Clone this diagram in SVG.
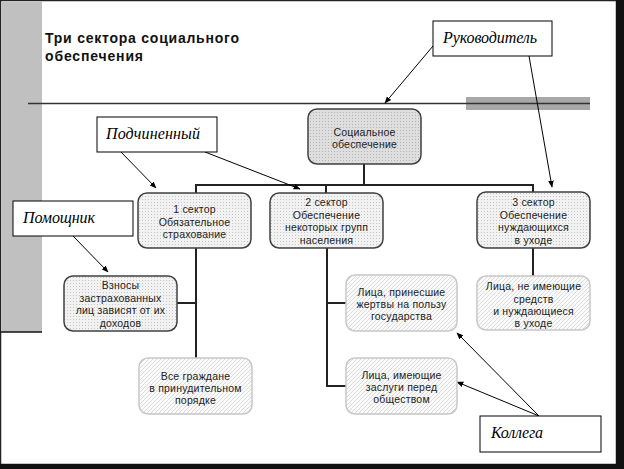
<svg xmlns="http://www.w3.org/2000/svg" width="624" height="469" viewBox="0 0 624 469">
<defs>
<pattern id="dots" width="3" height="3" patternUnits="userSpaceOnUse">
<rect width="3" height="3" fill="#f2f2f2"/>
<rect x="1" y="1" width="1" height="1" fill="#c4c4c4"/>
</pattern>
<pattern id="dotsDark" width="3" height="3" patternUnits="userSpaceOnUse">
<rect width="3" height="3" fill="#dedede"/>
<rect x="1" y="1" width="1" height="1" fill="#b4b4b4"/>
</pattern>
<pattern id="hatch" width="4" height="4" patternUnits="userSpaceOnUse">
<rect width="4" height="4" fill="#fafafa"/>
<path d="M0,4 L4,0" stroke="#dcdcdc" stroke-width="1"/>
</pattern>
<marker id="arr" viewBox="0 0 10 10" refX="9" refY="5" markerWidth="7" markerHeight="7" orient="auto" markerUnits="userSpaceOnUse">
<path d="M0,1 L10,5 L0,9 Z" fill="#000"/>
</marker>
</defs>
<style>
.node{stroke:#404040;stroke-width:1.5}
.sector{fill:url(#dots)}
.leaf{fill:url(#hatch);stroke:#c8c8c8;stroke-width:1.5}
.t{font-family:"Liberation Sans",Arial,sans-serif;font-size:10.5px;letter-spacing:0.2px;fill:#222;text-anchor:middle}
.note rect{fill:#fff;stroke:#000;stroke-width:1}
.note text{font-family:"Liberation Serif","Times New Roman",serif;font-style:italic;font-size:16px;fill:#000}
.tree{stroke:#222;stroke-width:2;fill:none}
.ptr{stroke:#000;stroke-width:1;fill:none;marker-end:url(#arr)}
.title{font-family:"Liberation Sans",Arial,sans-serif;font-weight:bold;font-size:14px;fill:#111}
</style>
<rect x="0" y="0" width="624" height="469" fill="#fff"/>
<rect x="2" y="2" width="40" height="330" fill="#c0c0c0"/>
<line x1="0" y1="332" x2="42" y2="332" stroke="#111" stroke-width="1.5"/>
<rect x="0.5" y="0.5" width="616" height="464" fill="none" stroke="#222" stroke-width="1.5"/>
<rect x="616" y="0" width="8" height="469" fill="#111"/>
<rect x="0" y="464" width="624" height="5" fill="#111"/>

<text class="title" x="45" y="43" textLength="194" lengthAdjust="spacing">Три сектора социального</text>
<text class="title" x="45" y="61" textLength="98" lengthAdjust="spacing">обеспечения</text>

<rect x="466" y="97" width="124" height="13" fill="#a8a8a8"/>
<line x1="28" y1="103.5" x2="590" y2="103.5" stroke="#333" stroke-width="1.5"/>

<g id="connectors">
<path class="tree" d="M364,164 V185 M196,193 V185 H533 V192 M326,185 V193"/>
<path class="tree" d="M196,248 V358 M177,303 H196"/>
<path class="tree" d="M327,248 V386 H346 M327,303 H346"/>
<path class="tree" d="M533,248 V276"/>
<line class="ptr" x1="433" y1="46" x2="385" y2="103"/>
<line class="ptr" x1="529" y1="56" x2="552" y2="187"/>
<line class="ptr" x1="121" y1="152" x2="156" y2="188"/>
<line class="ptr" x1="205" y1="152" x2="300" y2="189"/>
<line class="ptr" x1="73" y1="236" x2="108" y2="272"/>
<line class="ptr" x1="539" y1="416" x2="457" y2="333"/>
<line class="ptr" x1="539" y1="416" x2="457" y2="382"/>
</g>

<g id="social">
<rect class="node" x="308" y="109" width="113" height="55" rx="9" fill="url(#dotsDark)"/>
<text class="t" x="364.5" y="136">Социальное</text>
<text class="t" x="364.5" y="148">обеспечение</text>
</g>
<g id="sector1">
<rect class="node sector" x="138" y="193" width="113" height="55" rx="9"/>
<text class="t" x="194.5" y="213">1 сектор</text>
<text class="t" x="194.5" y="225.5">Обязательное</text>
<text class="t" x="194.5" y="237.5">страхование</text>
</g>
<g id="sector2">
<rect class="node sector" x="270" y="193" width="113" height="55" rx="9"/>
<text class="t" x="326.5" y="206">2 сектор</text>
<text class="t" x="326.5" y="218.5">Обеспечение</text>
<text class="t" x="326.5" y="231">некоторых групп</text>
<text class="t" x="326.5" y="243.5">населения</text>
</g>
<g id="sector3">
<rect class="node sector" x="477" y="192" width="113" height="56" rx="9"/>
<text class="t" x="533.5" y="206">3 сектор</text>
<text class="t" x="533.5" y="218.5">Обеспечение</text>
<text class="t" x="533.5" y="231">нуждающихся</text>
<text class="t" x="533.5" y="243.5">в уходе</text>
</g>
<g id="vznosy">
<rect class="node sector" x="64" y="276" width="113" height="55" rx="9"/>
<text class="t" x="120.5" y="289">Взносы</text>
<text class="t" x="120.5" y="301.5">застрахованных</text>
<text class="t" x="120.5" y="314">лиц зависят от их</text>
<text class="t" x="120.5" y="326.5">доходов</text>
</g>
<g id="vse">
<rect class="leaf" x="139" y="358" width="113" height="56" rx="9"/>
<text class="t" x="195.5" y="380">Все граждане</text>
<text class="t" x="195.5" y="392">в принудительном</text>
<text class="t" x="195.5" y="404">порядке</text>
</g>
<g id="prinesshie">
<rect class="leaf" x="346" y="275" width="111" height="56" rx="9"/>
<text class="t" x="401.5" y="296">Лица, принесшие</text>
<text class="t" x="401.5" y="308">жертвы на пользу</text>
<text class="t" x="401.5" y="320">государства</text>
</g>
<g id="zaslugi">
<rect class="leaf" x="346" y="358" width="111" height="56" rx="9"/>
<text class="t" x="401.5" y="379">Лица, имеющие</text>
<text class="t" x="401.5" y="391">заслуги перед</text>
<text class="t" x="401.5" y="403">обществом</text>
</g>
<g id="neimeyushchie">
<rect class="leaf" x="477" y="276" width="113" height="54" rx="9"/>
<text class="t" x="533.5" y="290">Лица, не имеющие</text>
<text class="t" x="533.5" y="302.5">средств</text>
<text class="t" x="533.5" y="315">и нуждающиеся</text>
<text class="t" x="533.5" y="327">в уходе</text>
</g>

<g id="rukovoditel" class="note">
<rect x="433" y="21" width="119" height="35"/>
<text x="443" y="43" textLength="94" lengthAdjust="spacing">Руководитель</text>
</g>
<g id="podchinenny" class="note">
<rect x="97" y="117" width="120" height="35"/>
<text x="106" y="139" textLength="94" lengthAdjust="spacing">Подчиненный</text>
</g>
<g id="pomoshchnik" class="note">
<rect x="13" y="201" width="120" height="35"/>
<text x="23" y="223" textLength="72" lengthAdjust="spacing">Помощник</text>
</g>
<g id="kollega" class="note">
<rect x="480" y="416" width="121" height="36"/>
<text x="491" y="438" textLength="52" lengthAdjust="spacing">Коллега</text>
</g>
</svg>
